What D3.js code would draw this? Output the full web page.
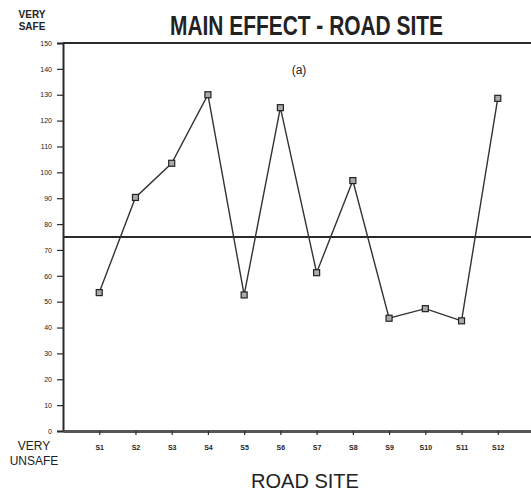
<!DOCTYPE html>
<html>
<head>
<meta charset="utf-8">
<script src="https://cdn.jsdelivr.net/npm/d3@7"></script>
<style>
  html, body { margin: 0; padding: 0; background: #fff; }
  svg { display: block; }
  text { font-family: "Liberation Sans", Arial, sans-serif; fill: #222; }
</style>
</head>
<body>
<svg id="chart" width="531" height="499"></svg>
<script>
// Road sites and their main-effect scores (0 = very unsafe, 150 = very safe)
const sites = ["S1", "S2", "S3", "S4", "S5", "S6", "S7", "S8", "S9", "S10", "S11", "S12"];
const scores = [53.5, 90.3, 103.5, 130, 52.6, 125, 61.2, 96.8, 43.6, 47.3, 42.6, 128.6];
const yTicks = [0, 10, 20, 30, 40, 50, 60, 70, 80, 90, 100, 110, 120, 130, 140, 150];
const referenceLevel = 75;

const svg = d3.select("#chart");
const W = 531;

const x = d3.scaleLinear().domain([0, 13]).range([63, 534]);
const y = d3.scaleLinear().domain([0, 150]).range([431, 43]);

const ink = "#2a2a2a";

// Title block
svg.append("text")
  .attr("x", 170).attr("y", 35)
  .attr("textLength", 273).attr("lengthAdjust", "spacingAndGlyphs")
  .style("font-size", "27px").style("font-weight", "bold")
  .text("MAIN EFFECT - ROAD SITE");

svg.append("text")
  .attr("x", 299).attr("y", 74).attr("text-anchor", "middle")
  .style("font-size", "12px")
  .text("(a)");

// End labels of the safety scale
const safe = svg.append("text").attr("text-anchor", "middle")
  .style("font-size", "10px").style("font-weight", "bold");
safe.append("tspan").attr("x", 32).attr("y", 18).text("VERY");
safe.append("tspan").attr("x", 32).attr("y", 30).text("SAFE");

const unsafe = svg.append("text").attr("text-anchor", "middle")
  .style("font-size", "12px");
unsafe.append("tspan").attr("x", 34).attr("y", 450).text("VERY");
unsafe.append("tspan").attr("x", 34).attr("y", 465).text("UNSAFE");

// Y axis
const yAxis = svg.append("g")
  .attr("transform", `translate(${x(0)},0)`)
  .call(d3.axisLeft(y).tickValues(yTicks).tickSize(6).tickPadding(5));
yAxis.select(".domain").attr("stroke", ink).attr("stroke-width", 2);
yAxis.selectAll(".tick line").attr("stroke", ink).attr("stroke-width", 1.2);
yAxis.selectAll(".tick text")
  .style("font-size", "7px").style("font-family", "Liberation Sans, Arial, sans-serif")
  .attr("fill", "#333");

// Top frame line at the "very safe" end
svg.append("line")
  .attr("x1", x(0)).attr("x2", W).attr("y1", y(150)).attr("y2", y(150))
  .attr("stroke", ink).attr("stroke-width", 2);

// X axis
const xAxis = svg.append("g")
  .attr("transform", `translate(0,${y(0)})`)
  .call(d3.axisBottom(x).tickValues(d3.range(1, sites.length + 1))
    .tickFormat(i => sites[i - 1]).tickSize(4).tickPadding(10).tickSizeOuter(0));
xAxis.select(".domain").attr("stroke", "#555").attr("stroke-width", 3);
xAxis.selectAll(".tick line").attr("stroke", ink).attr("stroke-width", 1.2);
xAxis.selectAll(".tick text")
  .style("font-size", "7px").style("font-weight", "bold")
  .style("font-family", "Liberation Sans, Arial, sans-serif")
  .attr("fill", "#333");

svg.append("text")
  .attr("x", 305).attr("y", 488).attr("text-anchor", "middle")
  .style("font-size", "20px")
  .text("ROAD SITE");

// Reference level
svg.append("line")
  .attr("x1", x(0)).attr("x2", W)
  .attr("y1", y(referenceLevel)).attr("y2", y(referenceLevel))
  .attr("stroke", ink).attr("stroke-width", 2.2);

// Score line with square markers
const pts = scores.map((v, i) => [x(i + 1), y(v)]);
svg.append("path")
  .attr("d", d3.line()(pts))
  .attr("fill", "none").attr("stroke", "#333").attr("stroke-width", 1.4);

svg.selectAll("rect.marker")
  .data(scores)
  .join("rect")
  .attr("class", "marker")
  .attr("x", (d, i) => x(i + 1) - 3)
  .attr("y", d => y(d) - 3)
  .attr("width", 6).attr("height", 6)
  .attr("fill", "#aaa").attr("stroke", "#222").attr("stroke-width", 1.2);
</script>
</body>
</html>
